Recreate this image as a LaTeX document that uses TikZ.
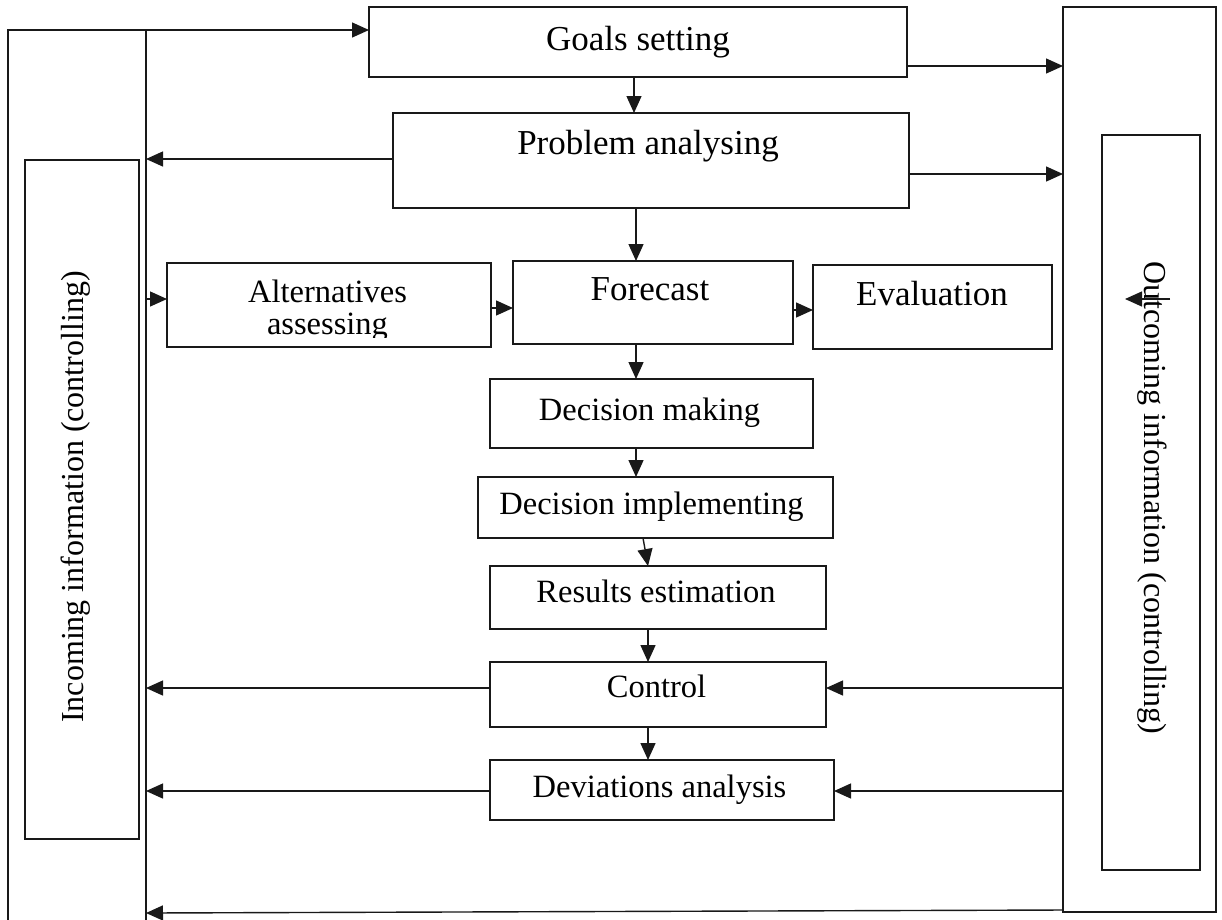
\documentclass[tikz,border=0pt]{standalone}
\usepackage{fontspec}
\setmainfont{Liberation Serif}
\usetikzlibrary{arrows.meta}
\begin{document}
\begin{tikzpicture}[x=1pt,y=-1pt,
  box/.style={draw=black!90, line width=1.5pt, rectangle, inner sep=0pt, outer sep=0pt},
  big/.style={inner sep=0pt, anchor=base, font=\fontsize{35}{42}\selectfont},
  small/.style={inner sep=0pt, anchor=base, font=\fontsize{32.5}{39}\selectfont},
  side/.style={inner sep=0pt, anchor=center, font=\fontsize{32}{38}\selectfont},
  arr/.style={draw=black!90, line width=1.4pt, -{Triangle[length=17pt,width=15pt]}}]
\useasboundingbox (0,0) rectangle (1222,919);
\clip (0,0) rectangle (1222,919);

% outer and inner frames on both sides
\node[box, minimum width=138pt, minimum height=910pt] (lout) at (77,485) {};
\node[box, minimum width=114pt, minimum height=679pt] (lin) at (82,499.5) {};
\node[side, rotate=90] (lintext) at (76,497) {Incoming information (controlling)};
\node[box, minimum width=153pt, minimum height=905pt] (rout) at (1139.5,459.5) {};
\node[box, minimum width=98pt, minimum height=735pt] (rin) at (1151,502.5) {};
\node[side, rotate=-90] (rintext) at (1152,498) {Outcoming information (controlling)};

% process steps
\node[box, minimum width=538pt, minimum height=70pt] (goals) at (638,42) {};
\node[big] (goalsT) at (638,50) {Goals setting};
\node[box, minimum width=516pt, minimum height=95pt] (problem) at (651,160.5) {};
\node[big] (problemT) at (648,154) {Problem analysing};
\node[box, minimum width=324pt, minimum height=84pt] (alt) at (329,305) {};
\node[small] (altT) at (327.5,302) {Alternatives};
\begin{scope}
  \clip (167,263) rectangle (491,337);
  \node[small] (altT2) at (327.5,334) {assessing};
\end{scope}
\node[box, minimum width=280pt, minimum height=83pt] (forecast) at (653,302.5) {};
\node[big] (forecastT) at (650,300) {Forecast};
\node[box, minimum width=239pt, minimum height=84pt] (eval) at (932.5,307) {};
\node[big] (evalT) at (932,305) {Evaluation};
\node[box, minimum width=323pt, minimum height=69pt] (dmake) at (651.5,413.5) {};
\node[small] (dmakeT) at (649.5,420) {Decision making};
\node[box, minimum width=355pt, minimum height=61pt] (dimpl) at (655.5,507.5) {};
\node[small] (dimplT) at (651.5,514) {Decision implementing};
\node[box, minimum width=336pt, minimum height=63pt] (results) at (658,597.5) {};
\node[small] (resultsT) at (656,602) {Results estimation};
\node[box, minimum width=336pt, minimum height=65pt] (control) at (658,694.5) {};
\node[small] (controlT) at (656.5,697) {Control};
\node[box, minimum width=344pt, minimum height=60pt] (dev) at (662,790) {};
\node[small] (devT) at (659.5,797) {Deviations analysis};

% connector levels
\coordinate (xA) at (634,0);
\coordinate (xB) at (636,0);
\coordinate (xS) at (643,0);
\coordinate (xC) at (648,0);
\coordinate (yA) at (0,66);
\coordinate (yB) at (0,159);
\coordinate (yC) at (0,174);
\coordinate (yD) at (0,299);
\coordinate (yE) at (0,308);
\coordinate (yF) at (0,310);
\coordinate (yG) at (0,688);
\coordinate (yH) at (0,791);
\coordinate (yI) at (0,910);
\coordinate (yJ) at (0,913);
\coordinate (s1) at (1170,299);
\coordinate (s2) at (1125,299);

% connectors
\draw[arr] (lout.north east) -- (lout.north east -| goals.west);
\draw[arr] (goals.east |- yA) -- (rout.west |- yA);
\draw[arr] (goals.south -| xA) -- (problem.north -| xA);
\draw[arr] (problem.west |- yB) -- (lout.east |- yB);
\draw[arr] (problem.east |- yC) -- (rout.west |- yC);
\draw[arr] (problem.south -| xB) -- (forecast.north -| xB);
\draw[arr] (lout.east |- yD) -- (alt.west |- yD);
\draw[arr] (alt.east |- yE) -- (forecast.west |- yE);
\draw[arr] (forecast.east |- yF) -- (eval.west |- yF);
\draw[arr] (forecast.south -| xB) -- (dmake.north -| xB);
\draw[arr] (dmake.south -| xB) -- (dimpl.north -| xB);
\draw[arr] (dimpl.south -| xS) -- (results.north -| xC);
\draw[arr] (results.south -| xC) -- (control.north -| xC);
\draw[arr] (control.west |- yG) -- (lout.east |- yG);
\draw[arr] (rout.west |- yG) -- (control.east |- yG);
\draw[arr] (control.south -| xC) -- (dev.north -| xC);
\draw[arr] (dev.west |- yH) -- (lout.east |- yH);
\draw[arr] (rout.west |- yH) -- (dev.east |- yH);
\draw[arr] (rout.west |- yI) -- (lout.east |- yJ);
\draw[arr] (s1) -- (s2);
\end{tikzpicture}
\end{document}
